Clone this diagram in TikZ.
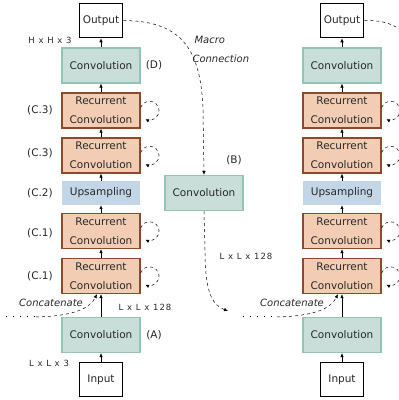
\documentclass[tikz,border=0pt]{standalone}
\usepackage{fontspec}
\setmainfont{DejaVu Sans}
\newfontfamily\dimfont[LetterSpace=12]{DejaVu Sans}
\usetikzlibrary{arrows.meta}
\usetikzlibrary{positioning}
\definecolor{convfill}{RGB}{201,222,216}
\definecolor{convdraw}{RGB}{148,194,180}
\definecolor{recfill}{RGB}{242,205,179}
\definecolor{recdraw}{RGB}{139,74,43}
\definecolor{upfill}{RGB}{194,214,232}
\definecolor{txt}{RGB}{40,40,40}

\begin{document}
\begin{tikzpicture}[x=1pt,y=1pt,font=\fontsize{10.5}{12}\selectfont,text=txt,
  conv/.style={rectangle,draw=convdraw,line width=1.2pt,fill=convfill,minimum width=78pt,minimum height=35pt,inner sep=0pt},
  rconv/.style={rectangle,draw=recdraw,line width=1.3pt,fill=recfill,minimum width=78pt,minimum height=35pt,inner sep=0pt,align=center,font=\fontsize{10.5}{19}\selectfont},
  upsamp/.style={rectangle,fill=upfill,minimum width=78pt,minimum height=24pt,inner sep=0pt},
  iobox/.style={rectangle,draw=black,line width=1.6pt,fill=white,minimum width=43pt,minimum height=34pt,inner sep=0pt},
  flow/.style={-{Latex[length=4pt,width=3.5pt]},line width=0.6pt},
  recur/.style={dashed,-{Latex[length=3.5pt,width=3.5pt]},line width=0.5pt},
  macro/.style={dashed,-{Latex[length=4pt,width=3.5pt]},line width=0.5pt},
  dots/.style={dash pattern=on 1pt off 6pt,line width=1pt},
  tag/.style={font=\fontsize{10.5}{12}\selectfont},
  dim/.style={font=\dimfont\fontsize{8.5}{10}\selectfont},
  note/.style={font=\itshape\fontsize{10}{12}\selectfont}]
\useasboundingbox (0,0) rectangle (399,400);
\clip (0,0) rectangle (399,400);

% left column
\node[iobox] (outL) at (101,379.5) {Output};
\node[conv] (convD) at (101,334.5) {Convolution};
\node[rconv] (rcL4) at (101,289.5) {Recurrent\\Convolution};
\node[rconv] (rcL3) at (101,244.5) {Recurrent\\Convolution};
\node[upsamp] (upL) at (101,207) {Upsampling};
\node[rconv] (rcL2) at (101,169) {Recurrent\\Convolution};
\node[rconv] (rcL1) at (101,124) {Recurrent\\Convolution};
\node[conv] (convA) at (101,65) {Convolution};
\node[iobox] (inL) at (101,20.5) {Input};

% middle
\node[conv] (convB) at (204,207) {Convolution};

% right column
\node[iobox] (outR) at (342,379.5) {Output};
\node[conv] (convDR) at (342,334.5) {Convolution};
\node[rconv] (rcR4) at (342,289.5) {Recurrent\\Convolution};
\node[rconv] (rcR3) at (342,244.5) {Recurrent\\Convolution};
\node[upsamp] (upR) at (342,207) {Upsampling};
\node[rconv] (rcR2) at (342,169) {Recurrent\\Convolution};
\node[rconv] (rcR1) at (342,124) {Recurrent\\Convolution};
\node[conv] (convAR) at (342,65) {Convolution};
\node[iobox] (inR) at (342,20.5) {Input};

% forward arrows
\draw[flow] (inL) -- (convA);
\draw[flow] (convA) -- (rcL1);
\draw[flow] (rcL1) -- (rcL2);
\draw[flow] (rcL2) -- (upL);
\draw[flow] (upL) -- (rcL3);
\draw[flow] (rcL3) -- (rcL4);
\draw[flow] (rcL4) -- (convD);
\draw[flow] (convD) -- (outL);
\draw[flow] (inR) -- (convAR);
\draw[flow] (convAR) -- (rcR1);
\draw[flow] (rcR1) -- (rcR2);
\draw[flow] (rcR2) -- (upR);
\draw[flow] (upR) -- (rcR3);
\draw[flow] (rcR3) -- (rcR4);
\draw[flow] (rcR4) -- (convDR);
\draw[flow] (convDR) -- (outR);

% recurrent loops
\draw[recur] ([yshift=3pt]rcL1.east) arc[start angle=160,end angle=-115,radius=9.5pt];
\draw[recur] ([yshift=3pt]rcL2.east) arc[start angle=160,end angle=-115,radius=9.5pt];
\draw[recur] ([yshift=3pt]rcL3.east) arc[start angle=160,end angle=-115,radius=9.5pt];
\draw[recur] ([yshift=3pt]rcL4.east) arc[start angle=160,end angle=-115,radius=9.5pt];
\draw[recur] ([yshift=3pt]rcR1.east) arc[start angle=160,end angle=-115,radius=9.5pt];
\draw[recur] ([yshift=3pt]rcR2.east) arc[start angle=160,end angle=-115,radius=9.5pt];
\draw[recur] ([yshift=3pt]rcR3.east) arc[start angle=160,end angle=-115,radius=9.5pt];
\draw[recur] ([yshift=3pt]rcR4.east) arc[start angle=160,end angle=-115,radius=9.5pt];

% macro connection
\draw[macro] (outL.east) .. controls (178,379) and (201,355) .. (203,290) -- (convB.north);
\coordinate (midEnd) at (228,89);
\draw[macro] (convB.south) -- (205,150) .. controls (205,108) and (212,95) .. (midEnd);
\coordinate (offR) at (425,330);
\draw[dashed,line width=0.5pt] (outR.east) .. controls (392,380) and (410,372) .. (offR);

% concatenation
\coordinate (prevL) at (6,83);
\coordinate (dotL) at (36,83);
\draw[dots] (prevL) -- (dotL);
\draw[macro] (dotL) .. controls (75,84) and (90,92) .. ([xshift=-4pt]rcL1.south);
\coordinate (prevR) at (243,83);
\coordinate (dotR) at (277,83);
\draw[dots] (prevR) -- (dotR);
\draw[macro] (dotR) .. controls (316,84) and (331,92) .. ([xshift=-4pt]rcR1.south);

% labels
\node[tag] (tD) at (154,334.5) {(D)};
\node[tag] (tC3a) at (40,289.5) {(C.3)};
\node[tag] (tC3b) at (40,247) {(C.3)};
\node[tag] (tC2) at (40,206.5) {(C.2)};
\node[tag] (tC1a) at (40,166.5) {(C.1)};
\node[tag] (tC1b) at (40,123.5) {(C.1)};
\node[tag] (tA) at (154,65) {(A)};
\node[tag] (tB) at (234,240) {(B)};
\node[dim] (dHH) at (50,360) {H x H x 3};
\node[dim] (dLL3) at (49,37) {L x L x 3};
\node[dim] (dLL) at (145,93) {L x L x 128};
\node[dim] (dLM) at (246,144) {L x L x 128};
\node[note] (catL) at (51,97) {Concatenate};
\node[note] (catR) at (292,97) {Concatenate};
\node[note,anchor=west] (mac1) at (191,360) {Macro};
\node[note,anchor=west] (mac2) at (189,341) {Connection};
\end{tikzpicture}
\end{document}
